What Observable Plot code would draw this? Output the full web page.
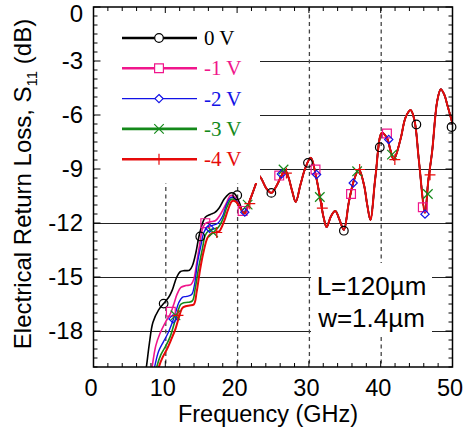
<!DOCTYPE html>
<html><head><meta charset="utf-8">
<script src="https://cdn.jsdelivr.net/npm/d3@7"></script>
<script src="https://cdn.jsdelivr.net/npm/@observablehq/plot@0.6"></script>
<style>body{margin:0;background:#fff}</style>
</head><body><div id="chart"></div>
<script>
// ---- data ----
const seriesNames = ["0 V", "-1 V", "-2 V", "-3 V", "-4 V"];
const xTicks = [0, 10, 20, 30, 40, 50];
const yTicks = [-3, -6, -9, -12, -15, -18];
const yTopTick = [0];
const gridY = [-3, -6, -9, -12, -15, -18];
const gridX = [10, 20, 30, 40];

const low0 = [[7.1,-20.4],[7.3,-19.95],[7.7,-18.7],[8.2,-17.5],[9.0,-16.8],[9.7,-16.45],[10.4,-16.1],[10.9,-15.7],[11.5,-15.0],[12.0,-14.68],[12.6,-14.62],[13.3,-14.6],[13.7,-14.35],[14.2,-13.6],[14.6,-12.75],[15.1,-12.0],[15.5,-11.65],[16.2,-11.5],[16.8,-11.4],[17.4,-11.15],[18.2,-10.6],[19.0,-10.3],[19.6,-10.35],[20.2,-10.8],[20.85,-11.4]];
const low1 = [[7.9,-20.4],[8.1,-19.95],[8.6,-18.8],[9.2,-18.1],[10.0,-17.45],[10.65,-17.0],[11.1,-16.5],[11.6,-15.9],[12.1,-15.55],[12.8,-15.45],[13.5,-15.4],[13.9,-15.1],[14.3,-14.2],[14.7,-13.2],[15.1,-12.3],[15.5,-12.0],[16.2,-11.9],[16.9,-11.85],[17.6,-11.5],[18.4,-10.9],[19.0,-10.45],[19.5,-10.5],[20.2,-10.95],[20.85,-11.4]];
const low2 = [[8.2,-20.4],[8.45,-19.95],[9.0,-19.1],[9.7,-18.55],[10.3,-18.1],[10.9,-17.5],[11.4,-16.9],[11.8,-16.4],[12.3,-16.1],[12.9,-16.05],[13.6,-15.95],[14.0,-15.4],[14.4,-14.2],[14.9,-13.2],[15.3,-12.5],[15.8,-12.2],[16.5,-12.1],[17.2,-12.0],[17.9,-11.6],[18.5,-10.9],[19.1,-10.55],[19.6,-10.6],[20.2,-11.0],[20.85,-11.4]];
const low3 = [[8.5,-20.4],[8.75,-19.95],[9.3,-19.3],[10.0,-18.8],[10.6,-18.3],[11.1,-17.65],[11.6,-17.0],[12.05,-16.5],[12.5,-16.4],[13.1,-16.38],[13.7,-16.3],[14.1,-15.6],[14.6,-14.4],[15.1,-13.4],[15.5,-12.65],[16.0,-12.4],[16.6,-12.3],[17.2,-12.25],[17.9,-11.8],[18.5,-11.1],[19.1,-10.65],[19.6,-10.7],[20.2,-11.05],[20.9,-11.45]];
const low4 = [[8.8,-20.4],[9.05,-19.95],[9.6,-19.4],[10.2,-18.95],[10.8,-18.4],[11.35,-17.85],[11.8,-17.25],[12.3,-16.7],[12.75,-16.6],[13.3,-16.55],[13.9,-16.5],[14.3,-15.8],[14.8,-14.5],[15.3,-13.5],[15.8,-12.8],[16.2,-12.6],[16.8,-12.5],[17.4,-12.45],[18.1,-11.9],[18.7,-11.2],[19.25,-10.75],[19.8,-10.8],[20.4,-11.15],[21.0,-11.45]];
const commonTail = [[21.7,-10.72],[22.5,-9.85],[22.95,-9.35],[23.3,-9.5],[24.0,-10.05],[24.7,-10.3],[25.5,-9.85],[26.2,-9.28],[26.7,-9.1],[27.1,-9.45],[27.6,-10.2],[28.1,-10.8],[28.75,-9.85],[29.45,-8.9],[30.2,-8.35],[30.85,-9.25],[31.5,-10.6],[32.0,-11.7],[32.4,-12.2],[33.0,-11.6],[33.6,-11.3],[34.2,-11.8],[34.8,-12.35],[35.5,-10.8],[36.2,-9.6],[36.9,-9.0],[37.6,-9.85],[38.05,-10.95],[38.5,-11.8],[39.2,-9.4],[40.1,-6.96],[40.8,-7.25],[41.3,-7.95],[41.75,-8.45],[42.7,-7.3],[43.4,-6.1],[44.1,-5.7],[44.65,-6.3],[45.25,-8.5],[46.1,-11.4],[46.55,-9.65],[47.1,-7.98],[47.8,-5.2],[48.3,-4.54],[48.8,-4.85],[49.2,-5.4],[50.1,-6.7]];

const marks0 = [[9.7,-16.45],[14.8,-12.72],[19.95,-10.43],[24.7,-10.3],[29.8,-8.63],[34.8,-12.4],[39.8,-7.76],[44.9,-6.5],[49.8,-6.64]];
const marks1 = [[10.7,-16.9],[15.5,-11.98],[20.7,-11.3],[25.8,-9.34],[30.85,-9.0],[35.8,-10.36],[40.8,-7.0],[45.8,-11.1]];
const marks2 = [[11.0,-17.3],[16.1,-12.26],[21.0,-11.37],[26.1,-9.25],[31.0,-9.28],[36.1,-9.75],[41.05,-7.33],[46.1,-11.48]];
const marks3 = [[11.35,-17.1],[16.6,-12.5],[21.4,-10.95],[26.4,-9.0],[31.45,-10.53],[36.65,-9.1],[41.5,-8.17],[46.5,-10.36]];
const marks4 = [[11.7,-17.1],[17.1,-12.5],[21.7,-10.9],[26.8,-9.2],[31.8,-11.15],[37.0,-9.0],[41.9,-8.45],[46.8,-9.3]];

// ---- styles ----
const colors = ["#000000", "#f0168c", "#1212e6", "#14891a", "#e60a0a"];
const widths = [1.6, 1.6, 1.4, 1.6, 2.0];
const legendWidths = [2.6, 2.4, 1.4, 2.6, 2.6];
const symbols = ["circle", "square2", "diamond2", "times", "plus"];
const symR = [4.3, 5.6, 3.7, 4.4, 3.6];

const curves = [low0, low1, low2, low3, low4].map(l => l.concat(commonTail));
const markers = [marks0, marks1, marks2, marks3, marks4];

const W = 465, H = 432;
const mL = 93.5, mR = 12.5, mT = 7, mB = 65;
const font = "'Liberation Sans', Arial, Helvetica, sans-serif";
const fmt = d => String(d);

const plot = Plot.plot({
  width: W, height: H,
  marginLeft: mL, marginRight: mR, marginTop: mT, marginBottom: mB,
  x: {domain: [0, 50]},
  y: {domain: [-20, 0]},
  style: {fontFamily: font, background: "white", color: "black"},
  marks: [
    Plot.ruleY(gridY, {stroke: "#222", strokeWidth: 1.2}),
    Plot.ruleX(gridX, {stroke: "#444", strokeWidth: 1.3, strokeDasharray: "4,3.5"}),
    ...curves.map((c, i) => Plot.line(c, {x: d => d[0], y: d => d[1], stroke: colors[i], strokeWidth: widths[i], curve: "catmull-rom", clip: true})),
    ...markers.map((m, i) => Plot.dot(m, {x: d => d[0], y: d => d[1], symbol: symbols[i], r: symR[i], stroke: colors[i], strokeWidth: 1.2, fill: "none"})),
    Plot.axisX(xTicks, {tickSize: 0, tickPadding: 12, fontSize: 23.5, dx: -3, tickFormat: fmt, label: null}),
    Plot.axisY(yTicks, {tickSize: 0, tickPadding: 11, fontSize: 24, tickFormat: fmt, label: null}),
    Plot.axisY(yTopTick, {tickSize: 0, tickPadding: 11, fontSize: 24, dy: 7, tickFormat: fmt, label: null})
  ]
});
document.getElementById("chart").appendChild(plot);

// ---- overlays: legend box, text box, frame, ticks, titles ----
const svg = d3.select(plot);
const xs = plot.scale("x"), ys = plot.scale("y");
const X = v => xs.apply(v), Y = v => ys.apply(v);
const fL = X(0), fR = X(50), fT = Y(0), fB = Y(-20);

// legend box (covers grid and curves beneath)
svg.append("rect").attr("x", fL + 1).attr("y", fT + 1).attr("width", 260 - fL - 1).attr("height", 183 - fT - 1).attr("fill", "white");
// annotation box
svg.append("rect").attr("x", 311).attr("y", 263).attr("width", 121).attr("height", 71).attr("fill", "white");

const ann = svg.append("g").attr("font-family", font).attr("font-size", 26).attr("text-anchor", "middle").attr("fill", "black");
ann.append("text").attr("x", 371.5).attr("y", 295).text("L=120\u00b5m");
ann.append("text").attr("x", 371.5).attr("y", 327).text("w=1.4\u00b5m");

// legend entries
const lg = svg.append("g");
const rowY = i => 38 + i * 30.3;
const symMap = {circle: d3.symbolCircle, square2: d3.symbolSquare2, diamond2: d3.symbolDiamond2, times: d3.symbolTimes, plus: d3.symbolPlus};
seriesNames.forEach((name, i) => {
  const y = rowY(i);
  lg.append("line").attr("x1", 122).attr("x2", 197).attr("y1", y).attr("y2", y)
    .attr("stroke", colors[i]).attr("stroke-width", legendWidths[i]);
  lg.append("path").attr("d", d3.symbol(symMap[symbols[i]], Math.PI * symR[i] * symR[i])())
    .attr("transform", `translate(159,${y})`).attr("fill", "white").attr("stroke", colors[i]).attr("stroke-width", 1.2);
  lg.append("text").attr("x", 204).attr("y", y + 7).attr("text-anchor", "start")
    .attr("font-family", "'Liberation Serif', 'Times New Roman', serif")
    .attr("font-size", 21).attr("fill", colors[i]).text(name);
});

// ticks (inward) on all sides
const tk = svg.append("g").attr("stroke", "black").attr("stroke-width", 1);
d3.range(0, 51, 2).forEach(v => {
  const len = v % 10 === 0 ? 6 : 4;
  tk.append("line").attr("x1", X(v)).attr("x2", X(v)).attr("y1", fB).attr("y2", fB - len);
  tk.append("line").attr("x1", X(v)).attr("x2", X(v)).attr("y1", fT).attr("y2", fT + len);
});
d3.range(-40, 1).map(k => k / 2).forEach(v => {
  const len = Number.isInteger(v) && v % 3 === 0 ? 7 : 4;
  tk.append("line").attr("y1", Y(v)).attr("y2", Y(v)).attr("x1", fL).attr("x2", fL + len);
  tk.append("line").attr("y1", Y(v)).attr("y2", Y(v)).attr("x1", fR).attr("x2", fR - len);
});
// frame
svg.append("rect").attr("x", fL).attr("y", fT).attr("width", fR - fL).attr("height", fB - fT)
  .attr("fill", "none").attr("stroke", "black").attr("stroke-width", 1.5);

// axis titles
svg.append("text").attr("x", 268).attr("y", 421.5).attr("text-anchor", "middle")
  .attr("font-family", font).attr("font-size", 23.5).attr("fill", "black").text("Frequency (GHz)");
const yl = svg.append("text").attr("transform", "translate(31,184) rotate(-90)").attr("text-anchor", "middle")
  .attr("font-family", font).attr("font-size", 24).attr("fill", "black");
yl.append("tspan").text("Electrical Return Loss, S");
yl.append("tspan").attr("font-size", 15).attr("dy", 6).text("11");
yl.append("tspan").attr("dy", -6).text(" (dB)");
</script>
</body></html>
